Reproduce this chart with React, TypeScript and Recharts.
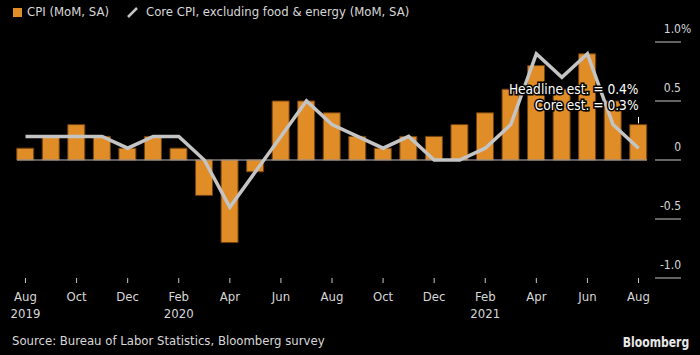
import React from 'react';
import { ComposedChart, Bar, Line, XAxis, YAxis, ReferenceLine, ReferenceDot } from 'recharts';

const monthLabels = ['Aug','Sep','Oct','Nov','Dec','Jan','Feb','Mar','Apr','May','Jun','Jul','Aug','Sep','Oct','Nov','Dec','Jan','Feb','Mar','Apr','May','Jun','Jul','Aug'];
const yearOfMonth = ['2019','2019','2019','2019','2019','2020','2020','2020','2020','2020','2020','2020','2020','2020','2020','2020','2020','2021','2021','2021','2021','2021','2021','2021','2021'];
const yearLabels = ['2019','','','','','','2020','','','','','','','','','','','','2021','','','','','',''];
const cpi = [0.1,0.2,0.3,0.2,0.1,0.2,0.1,-0.3,-0.7,-0.1,0.5,0.5,0.4,0.2,0.1,0.2,0.2,0.3,0.4,0.6,0.8,0.6,0.9,0.5,0.3];
const core = [0.2,0.2,0.2,0.2,0.1,0.2,0.2,0.0,-0.4,-0.1,0.2,0.5,0.3,0.2,0.1,0.2,0.0,0.0,0.1,0.3,0.9,0.7,0.9,0.3,0.1];
const yTicks = [-1, -0.5, 0, 0.5, 1];
const yTickLabels = ['-1.0', '-0.5', '0', '0.5', '1.0'];
const yTickSuffix = ['', '', '', '', '%'];
const annotations = ['Headline est. = 0.4%', 'Core est. = 0.3%'];
const annotationLevels = [0.6, 0.466];
const markerRange = [0.31, 0.365];
const legendLabels = ['CPI (MoM, SA)', 'Core CPI, excluding food & energy (MoM, SA)'];
const sourceText = 'Source: Bureau of Labor Statistics, Bloomberg survey';
const brandText = 'Bloomberg';

const categories = monthLabels.map((m, i) => `${m} ${yearOfMonth[i]}`);
const data = categories.map((c, i) => ({ cat: c, cpi: cpi[i], core: core[i] }));

const FONT = "'DejaVu Sans Condensed', 'DejaVu Sans', sans-serif";
const TEXT = '#d8d8d8';
const ORANGE = '#E08C27';
const LINE = '#c4c4c4';

const XTick = (props: any) => {
  const { x, y, payload } = props;
  const i = categories.indexOf(payload.value);
  return (
    <g>
      <text x={x} y={y + 16} textAnchor="middle" fill={TEXT} fontSize={13} fontFamily={FONT}>{monthLabels[i]}</text>
      {yearLabels[i] ? (
        <text x={x} y={y + 33} textAnchor="middle" fill={TEXT} fontSize={13} fontFamily={FONT}>{yearLabels[i]}</text>
      ) : null}
    </g>
  );
};

const YTick = (props: any) => {
  const { x, y, payload } = props;
  const i = yTicks.indexOf(payload.value);
  return (
    <g>
      <line x1={x} x2={x + 26} y1={y} y2={y} stroke="#c8c8c8" strokeWidth={1} />
      <text x={x + 26} y={y - 9} textAnchor="end" fill={TEXT} fontSize={12} fontFamily={FONT}>{yTickLabels[i]}</text>
      {yTickSuffix[i] ? (
        <text x={x + 26} y={y - 9} textAnchor="start" fill={TEXT} fontSize={12} fontFamily={FONT}>{yTickSuffix[i]}</text>
      ) : null}
    </g>
  );
};

const makeAnnot = (label: string) => (props: any) => {
  const { cx, cy } = props;
  return (
    <text x={cx} y={cy} textAnchor="end" dominantBaseline="central" fill="#ffffff" stroke="#000" strokeWidth={3}
      paintOrder="stroke" fontSize={13.6} fontFamily={FONT}>{label}</text>
  );
};

export default function App() {
  return (
    <div style={{ position: 'absolute', left: 0, top: 0, width: 700, height: 355, background: '#000', fontFamily: FONT, overflow: 'hidden' }}>
      <div style={{ position: 'absolute', left: 13, top: 8, width: 9, height: 9, background: ORANGE }} />
      <div style={{ position: 'absolute', left: 27, top: 3, fontSize: 13, color: TEXT, whiteSpace: 'nowrap', lineHeight: '18px' }}>{legendLabels[0]}</div>
      <svg style={{ position: 'absolute', left: 126, top: 6 }} width={14} height={14}>
        <line x1={2} y1={11} x2={11} y2={2} stroke={LINE} strokeWidth={2.5} />
      </svg>
      <div style={{ position: 'absolute', left: 146, top: 3, fontSize: 13, color: TEXT, whiteSpace: 'nowrap', lineHeight: '18px' }}>{legendLabels[1]}</div>
      <ComposedChart width={700} height={355} data={data} margin={{ top: 42, right: 0, left: 17, bottom: 47 }}>
        <XAxis dataKey="cat" interval={1} tick={<XTick />} tickLine={{ stroke: '#c8c8c8' }} tickSize={5} axisLine={false}
          padding={{ left: -4.28, right: -4.28 }} height={30} />
        <YAxis orientation="right" domain={[-1, 1]} ticks={yTicks} width={53} tick={<YTick />} tickLine={false} axisLine={false} />
        <ReferenceLine y={0} stroke="#b8b8b8" strokeWidth={1} />
        <Bar dataKey="cpi" fill={ORANGE} stroke="#6e410f" strokeWidth={1} barSize={17} isAnimationActive={false} />
        <Line dataKey="core" stroke={LINE} strokeWidth={3.5} dot={false} type="linear" isAnimationActive={false} />
        <ReferenceLine segment={[{ x: categories[24], y: markerRange[0] }, { x: categories[24], y: markerRange[1] }]} stroke="#ffffff" strokeWidth={1} />
        <ReferenceDot x={categories[24]} y={annotationLevels[0]} r={0} shape={makeAnnot(annotations[0])} />
        <ReferenceDot x={categories[24]} y={annotationLevels[1]} r={0} shape={makeAnnot(annotations[1])} />
      </ComposedChart>
      <div style={{ position: 'absolute', left: 12, top: 332, fontSize: 13, color: TEXT, whiteSpace: 'nowrap', lineHeight: '18px' }}>{sourceText}</div>
      <div style={{ position: 'absolute', right: 11, top: 332, fontSize: 14, fontWeight: 'bold', color: '#e8e8e8', whiteSpace: 'nowrap', lineHeight: '20px', transform: 'scaleX(0.86)', transformOrigin: 'right center', fontFamily: "'DejaVu Sans Condensed', sans-serif" }}>{brandText}</div>
    </div>
  );
}
